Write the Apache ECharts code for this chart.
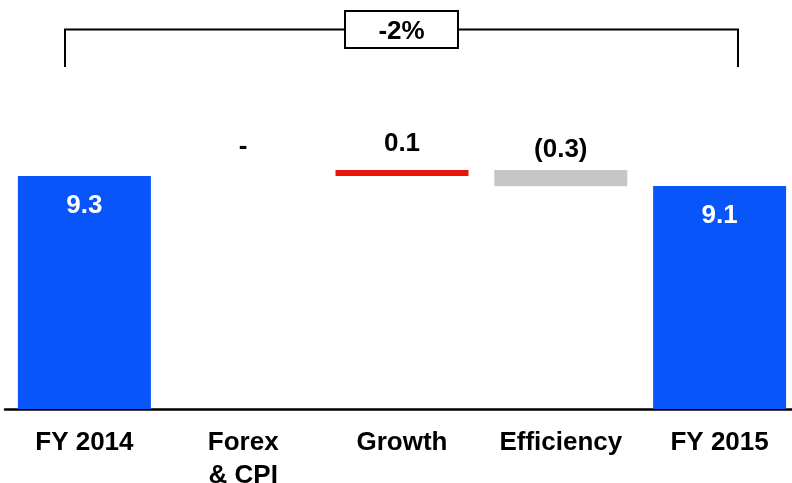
<!DOCTYPE html>
<html>
<head>
<meta charset="utf-8">
<script src="https://cdn.jsdelivr.net/npm/echarts@6/dist/echarts.min.js"></script>
<style>
  html, body { margin: 0; padding: 0; background: #fff; overflow: hidden; }
  #chart { width: 792px; height: 483px; }
</style>
</head>
<body>
<div id="chart"></div>
<script>
// Categories (x axis)
var categories = ['FY 2014', 'Forex\n& CPI', 'Growth', 'Efficiency', 'FY 2015'];
// Value labels as printed on the chart
var valueLabels = ['9.3', '-', '0.1', '(0.3)', '9.1'];
// Level where each bar starts and ends (bars are not drawn to strict scale)
var barStart = [0, 9.32, 9.32, 9.56, 0];
var barEnd   = [9.32, 9.32, 9.56, 8.91, 8.92];
// Change between totals
var totalChange = '-2%';

var colors = ['#0856FA', '#FFFFFF', '#E8160A', '#C6C6C6', '#0856FA'];

var baseData = barStart.map(function (s, i) { return Math.min(s, barEnd[i]); });
var deltaData = barStart.map(function (s, i) {
  var isTotal = (i === 0 || i === barStart.length - 1);
  var lbl;
  if (isTotal) {
    lbl = { show: true, position: ['50%', 30], align: 'center', verticalAlign: 'middle',
            color: '#fff', fontSize: 26, fontWeight: 'bold', formatter: valueLabels[i] };
  } else {
    var off = [0, -29, -26, -20.5, 0][i];
    lbl = { show: true, position: ['50%', off], align: 'center', verticalAlign: 'middle',
            color: '#000', fontSize: 26, fontWeight: 'bold', formatter: valueLabels[i] };
  }
  return {
    value: Math.abs(barEnd[i] - s),
    itemStyle: { color: colors[i] },
    label: lbl
  };
});

var chart = echarts.init(document.getElementById('chart'), null, { renderer: 'canvas' });
chart.setOption({
  animation: false,
  backgroundColor: '#fff',
  textStyle: { fontFamily: 'Liberation Sans, Arial, sans-serif' },
  grid: { left: 5, right: -7, top: 9, bottom: 74, containLabel: false, outerBoundsMode: 'none' },
  xAxis: {
    type: 'category',
    data: categories,
    axisLine: { show: true, lineStyle: { color: '#000', width: 2.5 } },
    axisTick: { show: false },
    axisLabel: {
      color: '#000', fontSize: 26, fontWeight: 'bold', lineHeight: 33,
      margin: 17.5, interval: 0, hideOverlap: false,
      fontFamily: 'Liberation Sans, Arial, sans-serif'
    }
  },
  yAxis: {
    type: 'value', min: 0, max: 16,
    show: false, splitLine: { show: false }
  },
  series: [
    {
      type: 'bar', stack: 'wf', barWidth: 133,
      itemStyle: { color: 'transparent' },
      data: baseData, silent: true, z: 1
    },
    {
      type: 'bar', stack: 'wf', barWidth: 133,
      data: deltaData, z: 2,
      labelLayout: { hideOverlap: false }
    }
  ],
  graphic: [
    {
      type: 'polyline',
      shape: { points: [[65, 67], [65, 29.5], [738, 29.5], [738, 67]] },
      style: { stroke: '#000', lineWidth: 2, fill: null },
      z: 10
    },
    {
      type: 'rect',
      shape: { x: 345, y: 11, width: 113, height: 37 },
      style: { fill: '#fff', stroke: '#000', lineWidth: 2 },
      z: 11
    },
    {
      type: 'text',
      x: 401.5, y: 31.5,
      style: {
        text: totalChange, fill: '#000', fontSize: 26, fontWeight: 'bold',
        fontFamily: 'Liberation Sans, Arial, sans-serif',
        align: 'center', verticalAlign: 'middle'
      },
      z: 12
    }
  ]
});
</script>
</body>
</html>
